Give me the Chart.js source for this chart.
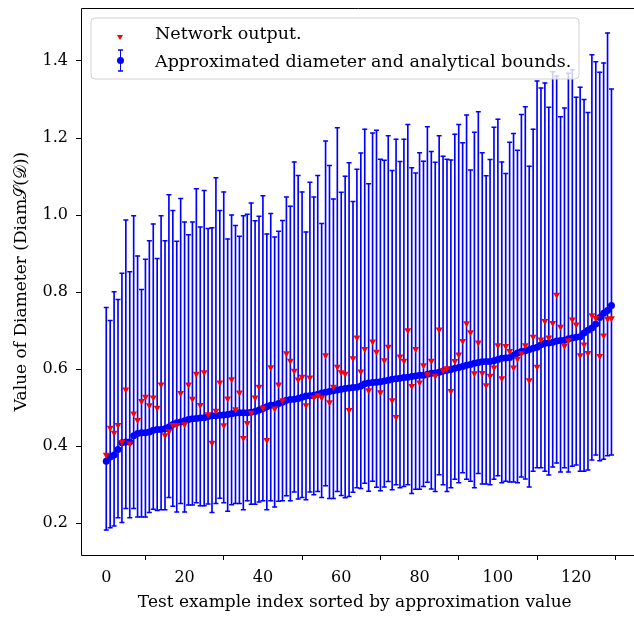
<!DOCTYPE html>
<html>
<head>
<meta charset="utf-8">
<script src="https://cdn.jsdelivr.net/npm/chart.js@4.4.1/dist/chart.umd.min.js"></script>
<style>
  html, body { margin: 0; padding: 0; background: #fff; overflow: hidden; }
  canvas { display: block; }
</style>
</head>
<body>
<canvas id="myChart" width="634" height="617"></canvas>
<script>
// approximated diameter (blue dots), one per test example, sorted
const approx = [
  0.361, 0.372, 0.377, 0.391, 0.409, 0.411, 0.411, 0.427, 0.433, 0.435,
  0.435, 0.437, 0.441, 0.443, 0.443, 0.445, 0.450, 0.456, 0.461, 0.463,
  0.466, 0.469, 0.471, 0.472, 0.473, 0.474, 0.477, 0.479, 0.479, 0.480,
  0.481, 0.482, 0.484, 0.486, 0.487, 0.487, 0.487, 0.488, 0.490, 0.494,
  0.498, 0.502, 0.506, 0.507, 0.511, 0.514, 0.519, 0.521, 0.522, 0.524,
  0.527, 0.530, 0.531, 0.532, 0.535, 0.538, 0.540, 0.542, 0.544, 0.546,
  0.548, 0.550, 0.551, 0.552, 0.553, 0.556, 0.562, 0.564, 0.565, 0.566,
  0.567, 0.569, 0.571, 0.574, 0.575, 0.576, 0.578, 0.579, 0.581, 0.582,
  0.584, 0.584, 0.587, 0.589, 0.590, 0.592, 0.595, 0.597, 0.599, 0.602,
  0.604, 0.607, 0.610, 0.612, 0.615, 0.617, 0.619, 0.620, 0.620, 0.622,
  0.625, 0.628, 0.629, 0.630, 0.636, 0.642, 0.646, 0.648, 0.651, 0.654,
  0.657, 0.663, 0.667, 0.668, 0.670, 0.673, 0.674, 0.675, 0.679, 0.681,
  0.683, 0.684, 0.694, 0.701, 0.707, 0.717, 0.734, 0.745, 0.752, 0.765
];

// analytical lower bounds
const lower = [
  0.182, 0.188, 0.193, 0.214, 0.202, 0.238, 0.214, 0.238, 0.216, 0.216,
  0.216, 0.228, 0.236, 0.233, 0.235, 0.235, 0.267, 0.244, 0.229, 0.251,
  0.229, 0.247, 0.247, 0.253, 0.245, 0.245, 0.250, 0.228, 0.251, 0.265,
  0.253, 0.231, 0.248, 0.251, 0.251, 0.235, 0.258, 0.249, 0.249, 0.255,
  0.258, 0.235, 0.258, 0.242, 0.257, 0.258, 0.271, 0.258, 0.281, 0.263,
  0.267, 0.261, 0.281, 0.274, 0.282, 0.267, 0.297, 0.264, 0.264, 0.282,
  0.272, 0.266, 0.269, 0.280, 0.292, 0.290, 0.304, 0.283, 0.309, 0.293,
  0.284, 0.294, 0.308, 0.287, 0.300, 0.292, 0.295, 0.300, 0.277, 0.288,
  0.288, 0.295, 0.306, 0.289, 0.282, 0.326, 0.300, 0.282, 0.292, 0.314,
  0.305, 0.331, 0.314, 0.309, 0.292, 0.329, 0.302, 0.302, 0.300, 0.314,
  0.323, 0.305, 0.309, 0.307, 0.307, 0.305, 0.320, 0.315, 0.294, 0.335,
  0.344, 0.344, 0.335, 0.325, 0.346, 0.356, 0.333, 0.344, 0.333, 0.348,
  0.351, 0.335, 0.335, 0.338, 0.364, 0.377, 0.362, 0.366, 0.375, 0.377
];

// analytical upper bounds
const upper = [
  0.760, 0.726, 0.801, 0.781, 0.849, 0.987, 0.853, 0.998, 0.894, 0.807,
  0.885, 0.933, 0.977, 0.887, 0.998, 0.933, 1.053, 1.012, 0.932, 1.043,
  0.982, 0.949, 0.982, 1.068, 0.969, 1.064, 0.965, 0.967, 1.097, 1.012,
  1.060, 0.938, 1.000, 0.973, 0.945, 0.998, 1.002, 1.031, 0.985, 0.997,
  1.050, 0.951, 1.004, 0.943, 0.958, 0.986, 1.047, 1.023, 1.138, 1.103,
  1.060, 0.956, 1.085, 1.047, 1.103, 0.978, 1.192, 1.129, 1.042, 1.227,
  1.059, 1.101, 1.136, 1.035, 1.119, 1.161, 1.223, 1.081, 1.213, 1.220,
  1.145, 1.142, 1.206, 1.116, 1.197, 1.139, 1.197, 1.235, 1.123, 1.109,
  1.162, 1.140, 1.229, 1.165, 1.137, 1.206, 1.153, 1.145, 1.143, 1.210,
  1.235, 1.188, 1.260, 1.117, 1.215, 1.268, 1.162, 1.102, 1.144, 1.228,
  1.249, 1.138, 1.108, 1.189, 1.212, 1.168, 1.261, 1.281, 1.127, 1.223,
  1.348, 1.330, 1.343, 1.280, 1.372, 1.361, 1.255, 1.278, 1.368, 1.377,
  1.306, 1.332, 1.300, 1.266, 1.416, 1.398, 1.371, 1.395, 1.473, 1.327
];

// network output (red triangles)
const network = [
  0.378, 0.448, 0.435, 0.455, 0.411, 0.547, 0.407, 0.485, 0.468, 0.517,
  0.528, 0.506, 0.526, 0.500, 0.560, 0.428, 0.439, 0.455, 0.455, 0.538,
  0.457, 0.560, 0.523, 0.588, 0.507, 0.592, 0.483, 0.409, 0.492, 0.565,
  0.454, 0.524, 0.574, 0.496, 0.539, 0.421, 0.460, 0.487, 0.526, 0.554,
  0.500, 0.416, 0.605, 0.498, 0.560, 0.519, 0.641, 0.622, 0.596, 0.573,
  0.580, 0.506, 0.578, 0.526, 0.532, 0.526, 0.636, 0.514, 0.554, 0.606,
  0.592, 0.588, 0.494, 0.628, 0.682, 0.594, 0.652, 0.545, 0.672, 0.645,
  0.540, 0.623, 0.658, 0.519, 0.476, 0.633, 0.622, 0.701, 0.556, 0.652,
  0.565, 0.610, 0.587, 0.622, 0.583, 0.703, 0.597, 0.602, 0.543, 0.621,
  0.638, 0.673, 0.719, 0.696, 0.589, 0.669, 0.590, 0.558, 0.583, 0.604,
  0.662, 0.576, 0.660, 0.647, 0.604, 0.627, 0.641, 0.662, 0.571, 0.684,
  0.606, 0.677, 0.725, 0.682, 0.720, 0.793, 0.710, 0.661, 0.675, 0.729,
  0.716, 0.636, 0.664, 0.642, 0.740, 0.733, 0.634, 0.687, 0.731, 0.732
];

const xTicks = [0, 20, 40, 60, 80, 100, 120];
const yTicks = [0.2, 0.4, 0.6, 0.8, 1.0, 1.2, 1.4];
const legendLabels = ["Network output.", "Approximated diameter and analytical bounds."];
const xTitle = "Test example index sorted by approximation value";
const yTitle = "Value of Diameter (Diam\u{1D4AE}(\u{1D49F}))";

const SERIF = "'DejaVu Serif', 'Liberation Serif', serif";
const BLUE = "#0000ff";
const RED = "#ff0000";

const pts = (arr) => arr.map((v, i) => ({ x: i, y: v }));

const framePlugin = {
  id: "frame",
  afterDatasetsDraw(chart) {
    const { ctx, chartArea: a } = chart;
    ctx.save();
    ctx.strokeStyle = "#000";
    ctx.lineWidth = 1;
    ctx.beginPath();
    ctx.moveTo(a.right + 20, a.top + 0.5);
    ctx.lineTo(a.left + 0.5, a.top + 0.5);
    ctx.lineTo(a.left + 0.5, a.bottom + 0.5);
    ctx.lineTo(a.right + 20, a.bottom + 0.5);
    ctx.stroke();
    ctx.restore();
  },
  afterDraw(chart) {
    const ctx = chart.ctx;
    ctx.save();
    // legend box
    const bx = 91, by = 18, bw = 488, bh = 61, r = 4;
    ctx.beginPath();
    ctx.moveTo(bx + r, by);
    ctx.arcTo(bx + bw, by, bx + bw, by + bh, r);
    ctx.arcTo(bx + bw, by + bh, bx, by + bh, r);
    ctx.arcTo(bx, by + bh, bx, by, r);
    ctx.arcTo(bx, by, bx + bw, by, r);
    ctx.closePath();
    ctx.fillStyle = "rgba(255,255,255,0.8)";
    ctx.fill();
    ctx.strokeStyle = "#d0d0d0";
    ctx.lineWidth = 1;
    ctx.stroke();

    // red marker
    const mx = 120;
    ctx.fillStyle = RED;
    ctx.beginPath();
    ctx.moveTo(mx - 3, 35);
    ctx.lineTo(mx + 3, 35);
    ctx.lineTo(mx, 40);
    ctx.closePath();
    ctx.fill();

    // errorbar marker
    ctx.strokeStyle = BLUE;
    ctx.lineWidth = 1;
    ctx.beginPath();
    ctx.moveTo(mx + 0.5, 50);
    ctx.lineTo(mx + 0.5, 71);
    ctx.stroke();
    ctx.lineWidth = 1.5;
    ctx.beginPath();
    ctx.moveTo(mx - 2, 50);
    ctx.lineTo(mx + 3, 50);
    ctx.moveTo(mx - 2, 71);
    ctx.lineTo(mx + 3, 71);
    ctx.stroke();
    ctx.fillStyle = BLUE;
    ctx.beginPath();
    ctx.arc(mx + 0.5, 60.5, 3.5, 0, Math.PI * 2);
    ctx.fill();

    ctx.fillStyle = "#000";
    ctx.font = "17.5px " + SERIF;
    ctx.textBaseline = "middle";
    ctx.fillText(legendLabels[0], 155, 34);
    ctx.fillText(legendLabels[1], 155, 62);
    ctx.restore();
  }
};

const ctx = document.getElementById("myChart").getContext("2d");
new Chart(ctx, {
  type: "bar",
  data: {
    datasets: [
      {
        type: "line",
        label: legendLabels[0],
        data: pts(network),
        showLine: false,
        pointStyle: "triangle",
        rotation: 180,
        pointRadius: 4,
        pointBackgroundColor: RED,
        pointBorderWidth: 0,
        borderColor: RED,
      },
      {
        type: "line",
        label: legendLabels[1],
        data: pts(approx),
        showLine: false,
        pointStyle: "circle",
        pointRadius: 3.5,
        pointBackgroundColor: BLUE,
        pointBorderWidth: 0,
        borderColor: BLUE,
      },
      {
        type: "line",
        data: pts(upper),
        showLine: false,
        pointStyle: "line",
        pointRadius: 2.5,
        pointBorderColor: BLUE,
        pointBorderWidth: 1.5,
      },
      {
        type: "line",
        data: pts(lower),
        showLine: false,
        pointStyle: "line",
        pointRadius: 2.5,
        pointBorderColor: BLUE,
        pointBorderWidth: 1.5,
      },
      {
        type: "bar",
        data: approx.map((_, i) => ({ x: i, y: [lower[i], upper[i]] })),
        backgroundColor: BLUE,
        barThickness: 1,
        borderWidth: 0,
      },
    ],
  },
  options: {
    responsive: false,
    animation: false,
    layout: { padding: { top: 8, left: 0, right: 0, bottom: 0 } },
    plugins: { legend: { display: false }, tooltip: { enabled: false } },
    scales: {
      x: {
        type: "linear",
        offset: false,
        min: -6.45,
        max: 133.35,
        afterFit: (s) => { s.height = 62; s.paddingLeft = 0; s.paddingRight = 0; },
        afterBuildTicks: (s) => { s.ticks = xTicks.map((v) => ({ value: v })); },
        grid: { drawOnChartArea: false, drawTicks: true, tickLength: 5, color: "#000" },
        border: { display: false },
        ticks: { color: "#000", padding: 8, maxRotation: 0, font: { family: SERIF, size: 16 } },
        title: { display: true, text: xTitle, color: "#000", padding: { top: 0, bottom: 4 }, font: { family: SERIF, size: 17 } },
      },
      y: {
        min: 0.1174,
        max: 1.5376,
        afterFit: (s) => { s.width = 81; s.paddingTop = 0; s.paddingBottom = 0; },
        afterBuildTicks: (s) => { s.ticks = yTicks.map((v) => ({ value: v })); },
        grid: { drawOnChartArea: false, drawTicks: true, tickLength: 5, color: "#000" },
        border: { display: false },
        ticks: { color: "#000", padding: 8, font: { family: SERIF, size: 16 }, callback: (v) => v.toFixed(1) },
        title: { display: true, text: yTitle, color: "#000", padding: { top: 11, bottom: 0 }, font: { family: SERIF, size: 17 } },
      },
    },
  },
  plugins: [framePlugin],
});
</script>
</body>
</html>
